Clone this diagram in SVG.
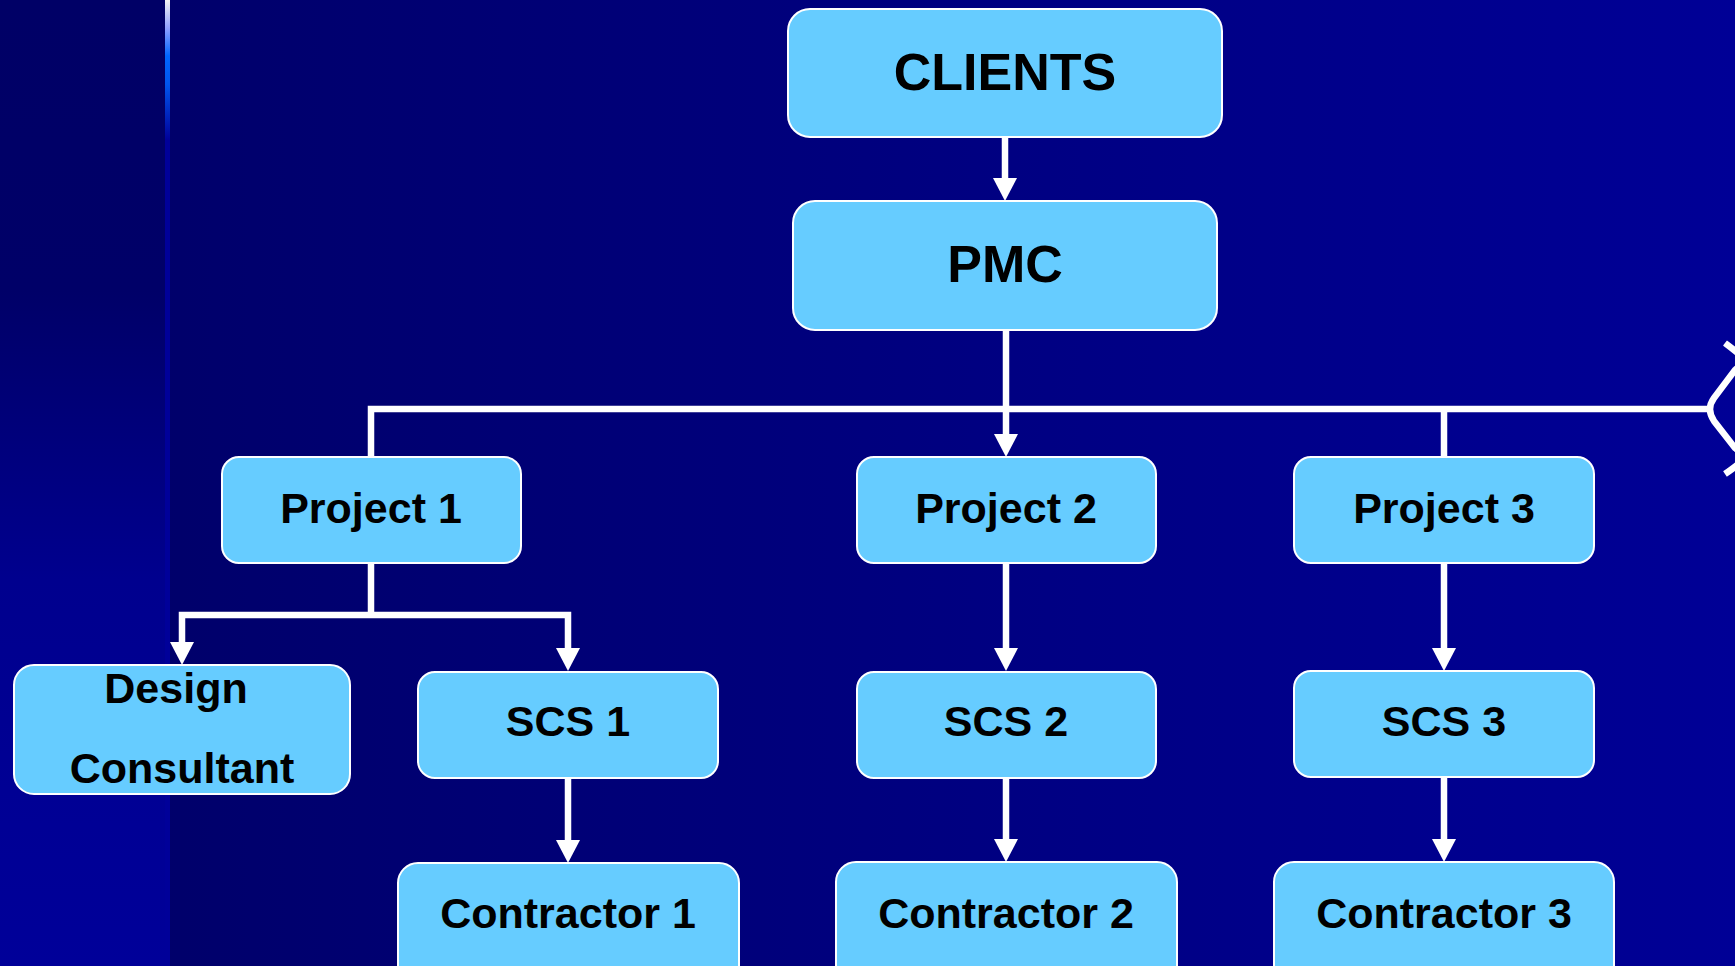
<svg xmlns="http://www.w3.org/2000/svg" width="1735" height="966" viewBox="0 0 1735 966">
  <defs>
    <linearGradient id="bgMain" x1="0" y1="0" x2="1" y2="0">
      <stop offset="0" stop-color="#000066"/>
      <stop offset="1" stop-color="#000096"/>
    </linearGradient>
    <linearGradient id="bgStrip" x1="0" y1="0" x2="0" y2="1">
      <stop offset="0" stop-color="#000066"/>
      <stop offset="0.3" stop-color="#000068"/>
      <stop offset="0.6" stop-color="#00008e"/>
      <stop offset="1" stop-color="#000099"/>
    </linearGradient>
    <linearGradient id="rule" x1="0" y1="0" x2="0" y2="140" gradientUnits="userSpaceOnUse">
      <stop offset="0" stop-color="#f4f4f4"/>
      <stop offset="0.2" stop-color="#8fa0ff"/>
      <stop offset="0.4" stop-color="#0066ff"/>
      <stop offset="0.6" stop-color="#0055ee"/>
      <stop offset="1" stop-color="#000099"/>
    </linearGradient>
    <marker id="arrow" markerUnits="userSpaceOnUse" markerWidth="24" markerHeight="24" refX="0" refY="12" orient="auto" viewBox="0 0 24 24">
      <path d="M0,0 L23,12 L0,24 Z" fill="#ffffff"/>
    </marker>
  </defs>
  <style>
    .box { fill: #66ccff; stroke: #ffffff; stroke-width: 2; }
    .lbl { font-family: "Liberation Sans", Arial, sans-serif; font-weight: bold; fill: #000000; text-anchor: middle; font-size: 43px; }
    .big { font-size: 52px; }
    .wire { fill: none; stroke: #ffffff; stroke-width: 6.5; }
  </style>

  <!-- background: main field, left strip and its rule -->
  <rect x="0" y="0" width="1735" height="966" fill="url(#bgMain)"/>
  <rect x="0" y="0" width="167" height="966" fill="url(#bgStrip)"/>
  <rect x="165" y="0" width="5" height="140" fill="url(#rule)"/>
  <rect x="165" y="140" width="5" height="826" fill="#000099"/>

  <!-- connectors -->
  <g id="connectors">
    <path class="wire" d="M1005,137 V178" marker-end="url(#arrow)"/>
    <path class="wire" d="M1006,330 V434" marker-end="url(#arrow)"/>
    <path class="wire" d="M371,457 V409 H1707"/>
    <path class="wire" d="M1444,409 V457"/>
    <path class="wire" d="M1725,343 C1745,358 1748,360 1735,370 L1714,398 Q1706,409 1714,421 L1735,448 C1748,458 1745,460 1725,474"/>
    <path class="wire" d="M371,563 V615"/>
    <path class="wire" d="M371,615 H182 V642" marker-end="url(#arrow)"/>
    <path class="wire" d="M371,615 H568 V648" marker-end="url(#arrow)"/>
    <path class="wire" d="M568,778 V840" marker-end="url(#arrow)"/>
    <path class="wire" d="M1006,563 V648" marker-end="url(#arrow)"/>
    <path class="wire" d="M1006,778 V839" marker-end="url(#arrow)"/>
    <path class="wire" d="M1444,563 V648" marker-end="url(#arrow)"/>
    <path class="wire" d="M1444,777 V839" marker-end="url(#arrow)"/>
  </g>

  <g id="clients">
    <rect class="box" x="788" y="9" width="434" height="128" rx="22"/>
    <text class="lbl big" x="1005" y="90">CLIENTS</text>
  </g>
  <g id="pmc">
    <rect class="box" x="793" y="201" width="424" height="129" rx="22"/>
    <text class="lbl big" x="1005" y="282">PMC</text>
  </g>

  <g id="project1">
    <rect class="box" x="222" y="457" width="299" height="106" rx="17"/>
    <text class="lbl" x="371" y="523">Project 1</text>
  </g>
  <g id="project2">
    <rect class="box" x="857" y="457" width="299" height="106" rx="17"/>
    <text class="lbl" x="1006" y="523">Project 2</text>
  </g>
  <g id="project3">
    <rect class="box" x="1294" y="457" width="300" height="106" rx="17"/>
    <text class="lbl" x="1444" y="523">Project 3</text>
  </g>

  <g id="design-consultant">
    <rect class="box" x="14" y="665" width="336" height="129" rx="20"/>
    <text class="lbl" x="176" y="703">Design</text>
    <text class="lbl" x="182" y="783">Consultant</text>
  </g>
  <g id="scs1">
    <rect class="box" x="418" y="672" width="300" height="106" rx="17"/>
    <text class="lbl" x="568" y="736">SCS 1</text>
  </g>
  <g id="scs2">
    <rect class="box" x="857" y="672" width="299" height="106" rx="17"/>
    <text class="lbl" x="1006" y="736">SCS 2</text>
  </g>
  <g id="scs3">
    <rect class="box" x="1294" y="671" width="300" height="106" rx="17"/>
    <text class="lbl" x="1444" y="736">SCS 3</text>
  </g>

  <g id="contractor1">
    <rect class="box" x="398" y="863" width="341" height="130" rx="20"/>
    <text class="lbl" x="568" y="928">Contractor 1</text>
  </g>
  <g id="contractor2">
    <rect class="box" x="836" y="862" width="341" height="130" rx="20"/>
    <text class="lbl" x="1006" y="928">Contractor 2</text>
  </g>
  <g id="contractor3">
    <rect class="box" x="1274" y="862" width="340" height="130" rx="20"/>
    <text class="lbl" x="1444" y="928">Contractor 3</text>
  </g>
</svg>
